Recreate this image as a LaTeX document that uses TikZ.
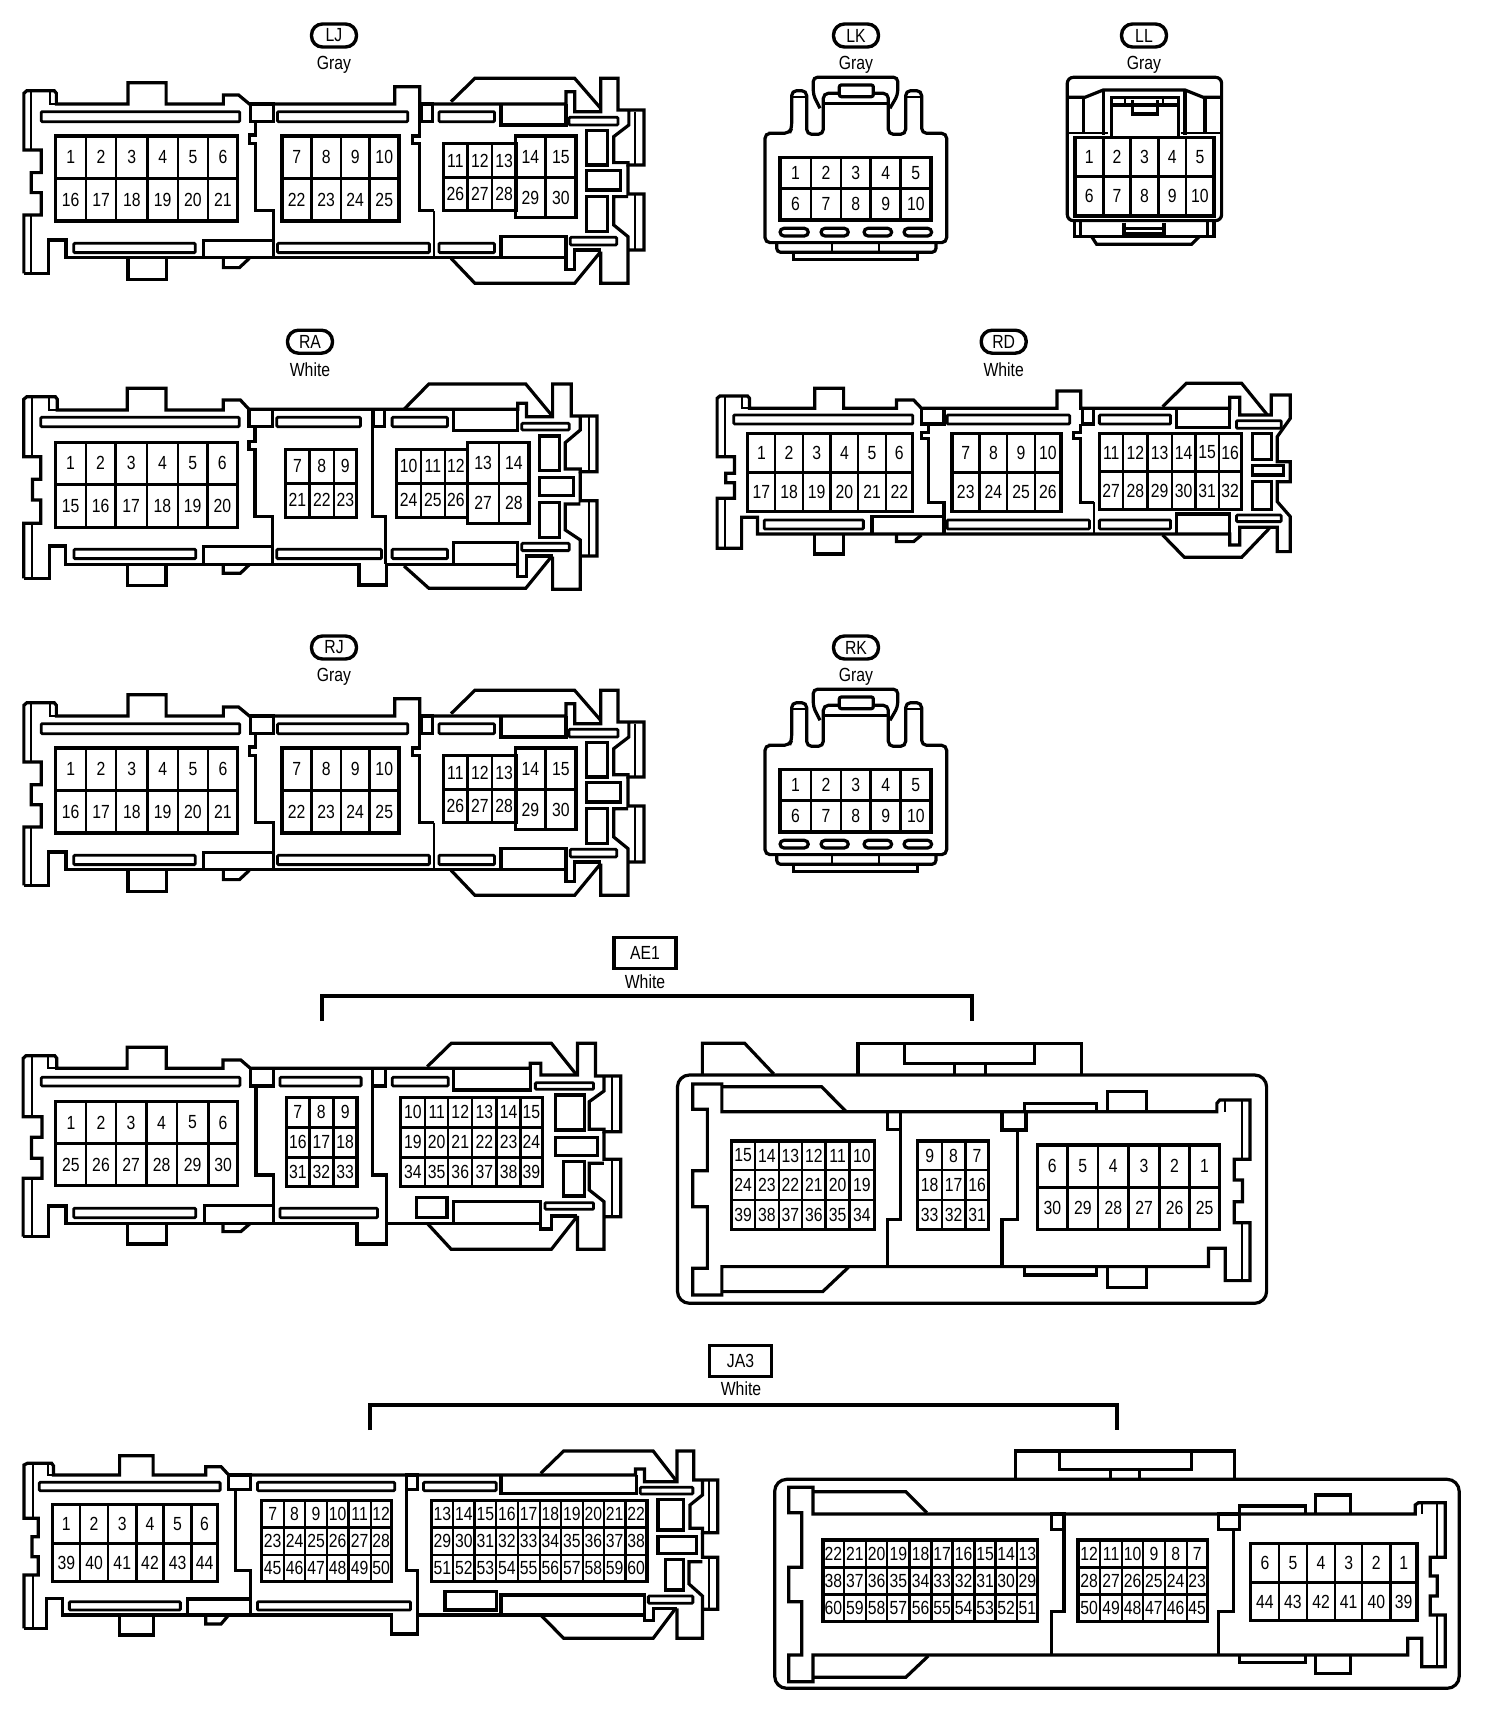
\documentclass[tikz,border=0pt]{standalone}
\usepackage{fontspec}
\setmainfont{Liberation Sans}
\newfontfamily\cfont[FakeStretch=0.83]{Liberation Sans}
\tikzset{
  outl/.style={draw=black,line width=3.2pt,line join=miter,miter limit=3},
  thn/.style={draw=black,line width=2pt},
  slot/.style={draw=black,line width=2.8pt,rounded corners=1pt},
  gridin/.style={draw=black,line width=2.4pt},
  gridout/.style={draw=black,line width=3.2pt},
  pinlab/.style={font=\cfont\fontsize{19}{19}\selectfont,inner sep=0pt,text=black},
  taglab/.style={font=\cfont\fontsize{19}{19}\selectfont,inner sep=0pt,text=black},
  ovaltag/.style={draw=black,line width=3.4pt,rounded corners=11pt,minimum width=45pt,minimum height=23pt,inner sep=0pt,font=\cfont\fontsize{19}{19}\selectfont},
  boxtag/.style={draw=black,line width=3.4pt,minimum width=62pt,minimum height=31pt,inner sep=0pt,font=\cfont\fontsize{19}{19}\selectfont},
  brk/.style={draw=black,line width=3.6pt,line join=miter}
}
% #1 prefix, #2 column edges, #3 row edges, #4 labels row by row
\newcommand\pingrid[4]{%
  \pgfmathtruncatemacro\ncols{dim({#2})-1}%
  \pgfmathtruncatemacro\nrows{dim({#3})-1}%
  \pgfmathsetmacro\gxa{{#2}[0]}\pgfmathsetmacro\gxb{{#2}[\ncols]}%
  \pgfmathsetmacro\gya{{#3}[0]}\pgfmathsetmacro\gyb{{#3}[\nrows]}%
  \foreach \gv in {#2} {\draw[gridin] (\gv,\gya) -- (\gv,\gyb);}%
  \foreach \gh in {#3} {\draw[gridin] (\gxa,\gh) -- (\gxb,\gh);}%
  \draw[gridout] (\gxa,\gya) rectangle (\gxb,\gyb);%
  \foreach \lab [count=\pn from 0] in {#4} {%
    \pgfmathtruncatemacro\pc{mod(\pn,\ncols)}%
    \pgfmathtruncatemacro\pr{div(\pn,\ncols)}%
    \pgfmathsetmacro\cxa{{#2}[\pc]}\pgfmathsetmacro\cxb{{#2}[\pc+1]}%
    \pgfmathsetmacro\cya{{#3}[\pr]}\pgfmathsetmacro\cyb{{#3}[\pr+1]}%
    \node[pinlab] (#1-\lab) at ({(\cxa+\cxb)/2},{(\cya+\cyb)/2}) {\lab};%
  }%
}
\newcommand\ljbody[1]{%
  \draw[outl] (55,820) -- (55,645) -- (95,645) -- (95,578) -- (72,578) -- (72,518) -- (95,518) -- (95,450) -- (55,450) -- (55,280) -- (62,272) -- (125,272) -- (130,280) -- (130,312) -- (295,312) -- (295,248) -- (383,248) -- (383,312) -- (515,312) -- (515,285) -- (550,285) -- (575,312) -- (910,312) -- (910,260) -- (968,260) -- (968,312) -- (1305,312) -- (1305,275) -- (1325,275) -- (1325,335) -- (1385,335) -- (1385,235) -- (1425,235) -- (1425,330) -- (1485,330) -- (1485,495) -- (1448,495) -- (1448,488) -- (1415,488) -- (1415,410) -- (1450,375) -- (1450,330);
  \draw[outl] (55,820) -- (112,820) -- (112,720) -- (152,720) -- (152,772) -- (1305,772) -- (1305,808) -- (1325,808) -- (1325,750) -- (1385,750);
  \draw[thn] (72,275) -- (72,450) (72,645) -- (72,820) (115,275) -- (115,312) -- (130,312) (1465,335) -- (1465,495) (1465,585) -- (1465,750);
  \draw[outl] (1448,495) -- (1448,582) -- (1485,582) -- (1485,750) -- (1450,750) (1448,590) -- (1415,590) -- (1415,675) -- (1448,710) -- (1448,850) -- (1385,850) -- (1385,755);
  \draw[outl] (1040,305) -- (1095,235) -- (1325,235) -- (1385,325);
  \draw[outl] (1040,775) -- (1095,850) -- (1325,850) -- (1385,755);
  \draw[outl] (515,772) -- (515,803) -- (552,803) -- (575,775);
  \draw[outl] (295,772) -- (295,838) -- (383,838) -- (383,772);
  \draw[slot] (95,335) rectangle (553,365) (640,335) rectangle (940,365) (1012,335) rectangle (1140,365) (1312,352) rectangle (1425,375) (170,730) rectangle (450,758) (640,730) rectangle (990,758) (1012,730) rectangle (1140,758) (1315,712) rectangle (1422,735);
  \draw[outl] (578,312) rectangle (630,365);
  \draw[outl] (972,312) rectangle (998,365);
  \draw[outl] (590,365) -- (590,405) -- (575,405) -- (575,430) -- (590,430) -- (590,632) -- (630,632) -- (630,772);
  \draw[outl] (968,312) -- (968,408) -- (952,408) -- (952,430) -- (968,430) -- (968,632) -- (1000,632);
  \draw[thn] (1000,632) -- (1000,772);
  \draw[outl] (470,772) -- (470,722) -- (630,722);
  \draw[outl] (1155,312) -- (1155,375) -- (1305,375) -- (1305,312);
  \draw[outl] (1155,772) -- (1155,710) -- (1305,710) -- (1305,772);
  \draw[outl] (1353,392) rectangle (1400,495) (1353,512) rectangle (1430,570) (1353,590) rectangle (1400,695);
  \pingrid{#1a}{128,198,268,340,410,480,548}{408,535,663}{1,...,6,16,17,...,21}
  \pingrid{#1b}{650,718,786,852,920}{408,535,663}{7,8,9,10,22,23,24,25}
  \pingrid{#1c}{1022,1078,1135,1190}{430,533,632}{11,12,13,26,27,28}
  \pingrid{#1d}{1188,1258,1328}{408,533,652}{14,15,29,30}
}
\newcommand\lkbody[1]{%
  \draw[outl,rounded corners=5pt] (100,400) -- (148,400) -- (155,385) -- (155,272) -- (200,272) -- (200,403) -- (250,403) -- (250,280) -- (295,280) -- (445,280) -- (445,403) -- (497,403) -- (497,272) -- (545,272) -- (545,400) -- (620,400) -- (620,728) -- (75,728) -- (75,400) -- cycle;
  \draw[outl,rounded corners=4pt] (240,325) -- (220,285) -- (220,232) -- (473,232) -- (473,285) -- (450,325);
  \draw[outl] (250,310) -- (445,310);
  \draw[outl,rounded corners=2pt,fill=white] (298,255) rectangle (400,290);
  \draw[thn] (155,292) -- (200,292) (497,292) -- (545,292);
  \pingrid{#1}{120,213,303,392,482,573}{472,565,660}{1,...,10}
  \draw[outl,rounded corners=4pt] (120,685) rectangle (205,708) (243,685) rectangle (325,708) (372,685) rectangle (455,708) (492,685) rectangle (575,708);
  \draw[outl,rounded corners=4pt] (110,730) -- (110,757) -- (588,757) -- (588,730);
  \draw[thn] (275,733) -- (275,755) (418,733) -- (418,755);
  \draw[outl] (160,757) -- (160,778) -- (533,778) -- (533,757);
}
\begin{document}
\begin{tikzpicture}[x=1pt,y=-1pt]
\useasboundingbox (0,0) rectangle (1504,1720);
\fill[white] (0,0) rectangle (1504,1720);
% ---------- tags
\node[ovaltag] (tLJ) at (334,35.5) {LJ};
\node[taglab] (cLJ) at (334,65) {Gray};
\node[ovaltag] (tLK) at (856,35.5) {LK};
\node[taglab] (cLK) at (856,65) {Gray};
\node[ovaltag] (tLL) at (1144,35.5) {LL};
\node[taglab] (cLL) at (1144,65) {Gray};
\node[ovaltag] (tRA) at (310,341.7) {RA};
\node[taglab] (cRA) at (310,369.5) {White};
\node[ovaltag] (tRD) at (1003.7,341.7) {RD};
\node[taglab] (cRD) at (1003.7,369.5) {White};
\node[ovaltag] (tRJ) at (334,647.5) {RJ};
\node[taglab] (cRJ) at (334,677) {Gray};
\node[ovaltag] (tRK) at (856,647.5) {RK};
\node[taglab] (cRK) at (856,677) {Gray};
\node[boxtag] (tAE) at (645,953) {AE1};
\node[taglab] (cAE) at (645,982) {White};
\node[boxtag] (tJA) at (740.5,1361) {JA3};
\node[taglab] (cJA) at (741,1389) {White};
% ---------- brackets
\coordinate (aeA) at (322,1021); \coordinate (aeB) at (322,996);
\coordinate (aeC) at (972,996); \coordinate (aeD) at (972,1021);
\draw[brk] (aeA) -- (aeB) -- (aeC) -- (aeD);
\coordinate (jaA) at (370,1430); \coordinate (jaB) at (370,1405);
\coordinate (jaC) at (1117,1405); \coordinate (jaD) at (1117,1430);
\draw[brk] (jaA) -- (jaB) -- (jaC) -- (jaD);
% ---------- LJ / RJ
\begin{scope}[xscale=0.4337,yscale=0.3333]\ljbody{LJ}\end{scope}
\begin{scope}[shift={(0,612)},xscale=0.4337,yscale=0.3333]\ljbody{RJ}\end{scope}
% ---------- LK / RK
\begin{scope}[shift={(740,0)},scale=0.3333]\lkbody{LK}\end{scope}
\begin{scope}[shift={(740,612)},scale=0.3333]\lkbody{RK}\end{scope}
% ---------- LL
\begin{scope}[shift={(740,0)},scale=0.3333]
  \draw[outl,rounded corners=6pt] (982,232) rectangle (1445,662);
  \draw[outl] (985,292) -- (1035,292) -- (1090,270) -- (1335,270) -- (1390,292) -- (1442,292);
  \draw[outl] (1030,292) -- (1030,400) (1395,292) -- (1395,400);
  \draw[outl] (1090,270) -- (1090,405) (1335,270) -- (1335,405);
  \draw[outl] (1115,410) -- (1115,293) -- (1315,293) -- (1315,410);
  \draw[outl] (1115,315) -- (1315,315);
  \draw[outl] (1178,300) -- (1178,342) -- (1252,342) -- (1252,300);
  \draw[thn] (1155,295) -- (1155,315) (1270,295) -- (1270,315);
  \draw[thn] (985,398) -- (1105,398) (1322,398) -- (1442,398);
  \pingrid{LL}{1005,1090,1172,1255,1338,1422}{412,530,648}{1,...,10}
  \draw[outl] (1003,662) -- (1003,710) -- (1422,710) -- (1422,662);
  \draw[outl] (1022,665) -- (1022,708) (1402,665) -- (1402,708);
  \draw[outl] (1152,668) -- (1152,702) -- (1272,702) -- (1272,668) (1152,685) -- (1272,685);
  \draw[outl] (1055,710) -- (1070,733) -- (1355,733) -- (1378,710);
\end{scope}
% ---------- RA
\begin{scope}[shift={(0,320)},xscale=0.3953,yscale=0.3333]
  \draw[outl] (60,775) -- (60,610) -- (103,610) -- (103,540) -- (82,540) -- (82,478) -- (103,478) -- (103,410) -- (60,410) -- (60,238) -- (68,230) -- (140,230) -- (145,238) -- (145,270) -- (322,270) -- (322,205) -- (420,205) -- (420,270) -- (565,270) -- (565,240) -- (608,240) -- (630,268) -- (1310,268) -- (1310,250) -- (1332,250) -- (1332,290) -- (1398,290) -- (1398,192) -- (1445,192) -- (1445,288) -- (1510,288) -- (1510,455) -- (1468,455) -- (1468,447) -- (1430,447) -- (1430,368) -- (1468,330) -- (1468,290);
  \draw[thn] (82,232) -- (82,410) (82,610) -- (82,775) (125,235) -- (125,270) -- (145,270) (1490,290) -- (1490,455) (1490,542) -- (1490,708);
  \draw[outl] (60,775) -- (125,775) -- (125,678) -- (165,678) -- (165,733) -- (908,733) -- (908,795) -- (978,795) -- (978,733) -- (1310,733) -- (1310,770) -- (1332,770) -- (1332,708) -- (1398,708);
  \draw[outl] (1022,268) -- (1085,192) -- (1330,192) -- (1395,285);
  \draw[outl] (1468,455) -- (1468,542) -- (1510,542) -- (1510,708) -- (1468,708) (1468,552) -- (1430,552) -- (1430,630) -- (1468,660) -- (1468,808) -- (1398,808) -- (1398,710);
  \draw[outl] (1022,738) -- (1085,805) -- (1330,805) -- (1395,710);
  \draw[outl] (565,733) -- (565,760) -- (608,760) -- (630,735);
  \draw[outl] (322,733) -- (322,797) -- (420,797) -- (420,733);
  \draw[slot] (103,292) rectangle (605,320) (700,292) rectangle (912,320) (992,292) rectangle (1132,320) (1320,310) rectangle (1440,330) (187,688) rectangle (495,716) (700,688) rectangle (965,716) (992,688) rectangle (1132,716) (1320,670) rectangle (1440,692);
  \draw[outl] (630,268) rectangle (690,320);
  \draw[outl] (945,268) rectangle (973,320);
  \draw[outl] (645,320) -- (645,365) -- (630,365) -- (630,388) -- (645,388) -- (645,590) -- (690,590) -- (690,733);
  \draw[outl] (942,268) -- (942,590) -- (975,590) -- (975,733);
  \draw[outl] (515,733) -- (515,680) -- (690,680);
  \draw[outl] (1148,268) -- (1148,332) -- (1310,332) -- (1310,268);
  \draw[outl] (1148,733) -- (1148,668) -- (1310,668) -- (1310,733);
  \draw[outl] (1365,348) rectangle (1415,452) (1365,472) rectangle (1450,526) (1365,547) rectangle (1415,652);
  \pingrid{RAa}{140,217,292,372,450,525,600}{367,493,622}{1,...,6,15,16,...,20}
  \pingrid{RAb}{722,783,845,902}{388,490,592}{7,8,9,21,22,23}
  \pingrid{RAc}{1003,1065,1125,1182}{388,490,592}{10,11,12,24,25,26}
  \pingrid{RAd}{1182,1262,1338}{367,490,610}{13,14,27,28}
\end{scope}
% ---------- RD
\begin{scope}[shift={(710,320)},xscale=0.3953,yscale=0.3333]
  \draw[outl] (18,685) -- (18,535) -- (62,535) -- (62,488) -- (40,488) -- (40,460) -- (62,460) -- (62,410) -- (18,410) -- (18,235) -- (25,228) -- (95,228) -- (100,235) -- (100,265) -- (265,265) -- (265,205) -- (338,205) -- (338,265) -- (472,265) -- (472,240) -- (515,240) -- (535,265) -- (878,265) -- (878,213) -- (938,213) -- (938,265) -- (1315,265) -- (1315,232) -- (1340,232) -- (1340,285) -- (1420,285) -- (1420,225) -- (1468,225) -- (1468,295) -- (1435,350) -- (1435,425) -- (1468,425) -- (1468,485) -- (1435,485) -- (1435,545) -- (1468,590) -- (1468,695) -- (1435,695) -- (1435,622) -- (1340,622) -- (1340,675) -- (1315,675) -- (1315,642) -- (120,642) -- (120,592) -- (80,592) -- (80,685) -- cycle;
  \draw[thn] (38,230) -- (38,410) (38,535) -- (38,685) (80,230) -- (80,265) -- (100,265);
  \draw[outl] (1145,260) -- (1205,190) -- (1345,190) -- (1410,285);
  \draw[outl] (1145,645) -- (1200,712) -- (1345,712) -- (1415,625);
  \draw[outl] (472,642) -- (472,665) -- (515,665) -- (535,645);
  \draw[outl] (265,642) -- (265,702) -- (338,702) -- (338,642);
  \draw[slot] (60,285) rectangle (513,312) (600,285) rectangle (910,312) (985,285) rectangle (1165,312) (1332,302) rectangle (1445,325) (137,600) rectangle (388,627) (600,600) rectangle (960,627) (985,600) rectangle (1165,627) (1332,585) rectangle (1445,605);
  \draw[outl] (535,265) rectangle (592,312);
  \draw[outl] (943,265) rectangle (970,312);
  \draw[outl] (552,312) -- (552,338) -- (535,338) -- (535,355) -- (552,355) -- (552,547) -- (592,547) -- (592,642);
  \draw[outl] (938,312) -- (938,338) -- (920,338) -- (920,355) -- (938,355) -- (938,547) -- (972,547);
  \draw[thn] (972,547) -- (972,642);
  \draw[outl] (410,642) -- (410,590) -- (590,590);
  \draw[outl] (1180,265) -- (1180,322) -- (1315,322) -- (1315,265);
  \draw[outl] (1180,642) -- (1180,582) -- (1315,582) -- (1315,642);
  \draw[outl] (1372,340) rectangle (1420,418) (1372,437) rectangle (1450,465) (1372,485) rectangle (1420,568);
  \pingrid{RDa}{95,165,235,305,375,445,513}{340,458,575}{1,...,6,17,18,...,22}
  \pingrid{RDb}{612,682,752,822,888}{340,458,575}{7,8,9,10,23,24,25,26}
  \pingrid{RDc}{985,1045,1107,1168,1228,1287,1345}{340,455,568}{11,...,16,27,28,...,32}
\end{scope}
% ---------- AE1 left
\begin{scope}[shift={(0,930)},xscale=0.4209,yscale=0.3333]
  \draw[outl] (55,920) -- (55,745) -- (100,745) -- (100,685) -- (75,685) -- (75,622) -- (100,622) -- (100,560) -- (55,560) -- (55,385) -- (62,377) -- (130,377) -- (135,385) -- (135,415) -- (302,415) -- (302,352) -- (395,352) -- (395,415) -- (530,415) -- (530,390) -- (572,390) -- (595,415) -- (1260,415) -- (1260,400) -- (1285,400) -- (1285,435) -- (1372,435) -- (1372,340) -- (1415,340) -- (1415,438) -- (1475,438) -- (1475,605) -- (1435,605) -- (1435,598) -- (1400,598) -- (1400,515) -- (1435,483) -- (1435,440);
  \draw[thn] (75,380) -- (75,560) (75,745) -- (75,920) (115,380) -- (115,415) -- (135,415) (1455,440) -- (1455,605) (1455,690) -- (1455,860);
  \draw[outl] (55,920) -- (115,920) -- (115,828) -- (157,828) -- (157,880) -- (848,880) -- (848,942) -- (918,942) -- (918,880) -- (1285,880) -- (1285,897) -- (1310,897) -- (1310,858) -- (1372,858);
  \draw[outl] (1015,410) -- (1072,340) -- (1310,340) -- (1370,435);
  \draw[outl] (1435,605) -- (1435,688) -- (1475,688) -- (1475,860) -- (1435,860) (1435,700) -- (1400,700) -- (1400,780) -- (1435,815) -- (1435,958) -- (1372,958) -- (1372,858);
  \draw[outl] (1015,880) -- (1072,958) -- (1310,958) -- (1372,858);
  \draw[outl] (530,880) -- (530,905) -- (572,905) -- (595,880);
  \draw[outl] (302,880) -- (302,942) -- (395,942) -- (395,880);
  \draw[slot] (98,442) rectangle (570,468) (665,442) rectangle (858,468) (932,442) rectangle (1065,468) (1272,458) rectangle (1410,478) (175,835) rectangle (465,863) (665,835) rectangle (897,863) (1295,818) rectangle (1410,838);
  \draw[outl] (595,415) rectangle (650,468);
  \draw[outl] (885,415) rectangle (915,468);
  \draw[outl] (608,468) -- (608,735) -- (650,735) -- (650,880);
  \draw[outl] (885,468) -- (885,735) -- (918,735) -- (918,880);
  \draw[outl] (485,880) -- (485,826) -- (650,826);
  \draw[outl] (1078,415) -- (1078,480) -- (1260,480) -- (1260,415);
  \draw[outl] (1078,880) -- (1078,815) -- (1285,815) -- (1285,880);
  \draw[outl] (990,802) rectangle (1062,862);
  \draw[outl] (1320,495) rectangle (1388,600) (1320,622) rectangle (1420,677) (1338,695) rectangle (1388,798);
  \pingrid{AEa}{132,205,275,348,420,495,565}{515,640,767}{1,...,6,25,26,...,30}
  \pingrid{AEb}{680,735,792,848}{502,592,682,770}{7,8,9,16,17,18,31,32,33}
  \pingrid{AEc}{952,1010,1065,1122,1180,1237,1288}{502,592,682,770}{10,...,15,19,20,...,24,34,35,...,39}
\end{scope}
% ---------- AE1 right
\begin{scope}[shift={(670,930)},xscale=0.4149,yscale=0.3333]
  \draw[outl,rounded corners=12pt] (18,435) rectangle (1438,1120);
  \draw[outl] (78,435) -- (78,340) -- (180,340) -- (250,432);
  \draw[outl] (453,435) -- (453,340) -- (992,340) -- (992,435);
  \draw[outl] (565,340) -- (565,400) -- (878,400) -- (878,340);
  \draw[outl] (685,400) -- (685,435) (760,400) -- (760,435);
  \draw[outl] (125,545) -- (1318,545) -- (1318,520) -- (1325,510) -- (1398,510) -- (1398,688) -- (1360,688) -- (1360,750) -- (1380,750) -- (1380,815) -- (1360,815) -- (1360,878) -- (1398,878) -- (1398,1052) -- (1338,1052) -- (1338,955) -- (1298,955) -- (1298,1010) -- (125,1010) -- (125,1095) -- (55,1095) -- (55,1015) -- (90,1015) -- (90,830) -- (55,830) -- (55,722) -- (90,722) -- (90,538) -- (55,538) -- (55,462) -- (125,462) -- cycle;
  \draw[outl] (125,470) -- (365,470) -- (425,545);
  \draw[outl] (125,1085) -- (368,1085) -- (430,1012);
  \draw[thn] (1378,512) -- (1378,688) (1378,878) -- (1378,1052) (1338,510) -- (1338,545);
  \draw[outl] (525,545) -- (525,598) -- (555,598);
  \draw[outl] (555,545) -- (555,868) -- (525,868) -- (525,1010);
  \draw[outl] (800,545) rectangle (858,600);
  \draw[outl] (838,600) -- (838,868) -- (800,868) -- (800,1010);
  \draw[outl] (855,545) -- (855,520) -- (1028,520) -- (1028,545);
  \draw[outl] (1055,545) -- (1055,485) -- (1148,485) -- (1148,545);
  \draw[outl] (855,1010) -- (855,1035) -- (1028,1035) -- (1028,1010);
  \draw[outl] (1055,1010) -- (1055,1072) -- (1148,1072) -- (1148,1010);
  \pingrid{ARa}{148,205,262,318,375,433,492}{633,720,810,898}{15,14,...,10,24,23,...,19,39,38,...,34}
  \pingrid{ARb}{597,655,712,768}{633,720,810,898}{9,8,7,18,17,16,33,32,31}
  \pingrid{ARc}{885,958,1032,1105,1180,1252,1325}{645,772,898}{6,5,...,1,30,29,...,25}
\end{scope}
% ---------- JA3 left
\begin{scope}[shift={(0,1360)},xscale=0.4785,yscale=0.3333]
  \draw[outl] (50,805) -- (50,645) -- (80,645) -- (80,590) -- (67,590) -- (67,530) -- (80,530) -- (80,475) -- (50,475) -- (50,315) -- (57,310) -- (108,310) -- (112,318) -- (112,345) -- (250,345) -- (250,287) -- (320,287) -- (320,345) -- (430,345) -- (430,320) -- (462,320) -- (478,345) -- (1328,345) -- (1328,327) -- (1347,327) -- (1347,365) -- (1415,365) -- (1415,273) -- (1450,273) -- (1450,360) -- (1500,360) -- (1500,518) -- (1468,518) -- (1468,505) -- (1442,505) -- (1442,435) -- (1468,405) -- (1468,362);
  \draw[thn] (68,312) -- (68,475) (68,645) -- (68,805) (100,312) -- (100,345) -- (112,345) (1482,362) -- (1482,518) (1482,592) -- (1482,748);
  \draw[outl] (50,805) -- (98,805) -- (98,715) -- (130,715) -- (130,765) -- (818,765) -- (818,822) -- (873,822) -- (873,765) -- (1347,765) -- (1347,782) -- (1365,782) -- (1365,745) -- (1415,745);
  \draw[outl] (1130,340) -- (1178,273) -- (1365,273) -- (1412,360);
  \draw[outl] (1468,518) -- (1468,592) -- (1500,592) -- (1500,748) -- (1468,748) (1468,605) -- (1440,605) -- (1440,672) -- (1468,708) -- (1468,835) -- (1415,835) -- (1415,745);
  \draw[outl] (1130,765) -- (1178,835) -- (1365,835) -- (1412,745);
  \draw[outl] (430,765) -- (430,792) -- (462,792) -- (478,765);
  \draw[outl] (250,765) -- (250,825) -- (320,825) -- (320,765);
  \draw[slot] (82,367) rectangle (460,392) (538,367) rectangle (825,392) (885,367) rectangle (1037,392) (1338,382) rectangle (1448,402) (145,725) rectangle (377,750) (538,725) rectangle (858,750) (1355,708) rectangle (1448,730);
  \draw[outl] (478,345) rectangle (523,388);
  \draw[outl] (850,345) rectangle (872,388);
  \draw[outl] (492,388) -- (492,632) -- (523,632) -- (523,765);
  \draw[outl] (850,388) -- (850,632) -- (873,632) -- (873,765);
  \draw[outl] (392,765) -- (392,717) -- (523,717);
  \draw[outl] (1047,345) -- (1047,400) -- (1330,400) -- (1330,345);
  \draw[outl] (1047,765) -- (1047,705) -- (1347,705) -- (1347,765);
  \draw[outl] (930,695) rectangle (1037,750);
  \draw[outl] (1375,418) rectangle (1428,510) (1375,530) rectangle (1455,580) (1390,598) rectangle (1428,690);
  \pingrid{JAa}{110,167,226,285,342,400,455}{433,550,665}{1,...,6,39,40,...,44}
  \pingrid{JAb}{547,593,638,683,728,775,818}{422,503,585,665}{7,...,12,23,24,...,28,45,46,...,50}
  \pingrid{JAc}{902,947,992,1037,1082,1128,1172,1218,1262,1307,1352}{422,503,585,665}{13,...,22,29,30,...,38,51,52,...,60}
\end{scope}
% ---------- JA3 right
\begin{scope}[shift={(770,1360)},xscale=0.4682,yscale=0.3333]
  \draw[outl,rounded corners=12pt] (10,358) rectangle (1472,985);
  \draw[outl] (525,358) -- (525,273) -- (992,273) -- (992,358);
  \draw[outl] (618,273) -- (618,328) -- (900,328) -- (900,273);
  \draw[outl] (728,328) -- (728,358) (790,328) -- (790,358);
  \draw[outl] (92,462) -- (1378,462) -- (1378,435) -- (1385,428) -- (1442,428) -- (1442,592) -- (1410,592) -- (1410,648) -- (1425,648) -- (1425,708) -- (1410,708) -- (1410,765) -- (1442,765) -- (1442,920) -- (1392,920) -- (1392,835) -- (1362,835) -- (1362,885) -- (92,885) -- (92,965) -- (40,965) -- (40,885) -- (68,885) -- (68,725) -- (40,725) -- (40,622) -- (68,622) -- (68,458) -- (40,458) -- (40,382) -- (92,382) -- cycle;
  \draw[outl] (92,395) -- (290,395) -- (335,458);
  \draw[outl] (92,952) -- (290,952) -- (338,888);
  \draw[thn] (1425,430) -- (1425,592) (1425,765) -- (1425,920) (1392,430) -- (1392,462);
  \draw[outl] (602,462) rectangle (628,508);
  \draw[outl] (628,508) -- (628,755) -- (602,755) -- (602,885);
  \draw[outl] (958,462) rectangle (1003,508);
  \draw[outl] (990,508) -- (990,755) -- (958,755) -- (958,885);
  \draw[outl] (1003,462) -- (1003,438) -- (1143,438) -- (1143,462);
  \draw[outl] (1165,462) -- (1165,405) -- (1240,405) -- (1240,462);
  \draw[outl] (1003,885) -- (1003,908) -- (1143,908) -- (1143,885);
  \draw[outl] (1165,885) -- (1165,940) -- (1240,940) -- (1240,885);
  \pingrid{JRa}{113,158,205,250,298,345,390,437,482,527,572}{540,622,703,785}{22,21,...,13,38,37,...,29,60,59,...,51}
  \pingrid{JRb}{658,705,752,797,843,890,935}{540,622,703,785}{12,11,...,7,28,27,...,23,50,49,...,45}
  \pingrid{JRc}{1027,1087,1147,1207,1265,1325,1382}{550,667,782}{6,5,...,1,44,43,...,39}
\end{scope}
\end{tikzpicture}
\end{document}
